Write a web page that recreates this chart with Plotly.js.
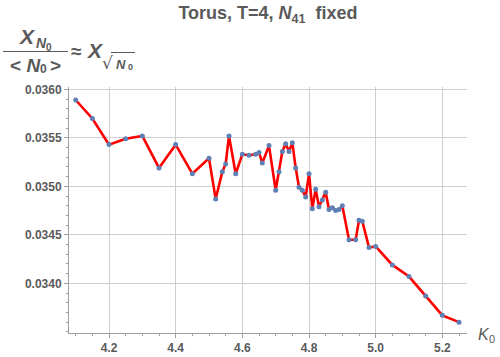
<!DOCTYPE html>
<html>
<head>
<meta charset="utf-8">
<script src="https://cdn.plot.ly/plotly-3.0.1.min.js"></script>
<style>html,body{margin:0;padding:0;background:#fff;}#chart{width:500px;height:357px;}</style>
</head>
<body>
<div id="chart"></div>
<script>
// Data
const kappa0 = [4.10, 4.15, 4.20, 4.25, 4.30, 4.35, 4.40, 4.45, 4.50, 4.52, 4.54, 4.55, 4.56, 4.58,
  4.60, 4.62, 4.64, 4.65, 4.66, 4.68, 4.70, 4.71, 4.72, 4.73, 4.74, 4.75, 4.76, 4.77, 4.78, 4.79,
  4.80, 4.81, 4.82, 4.83, 4.84, 4.85, 4.86, 4.87, 4.88, 4.89, 4.90, 4.92, 4.94, 4.95, 4.96, 4.98,
  5.00, 5.05, 5.10, 5.15, 5.20, 5.25];
const chi = [0.03589, 0.03570, 0.03543, 0.03549, 0.03552, 0.03519, 0.03543, 0.03513, 0.03529, 0.03487,
  0.03515, 0.03523, 0.03552, 0.03513, 0.03533, 0.03532, 0.03533, 0.03535, 0.03524, 0.03542, 0.03496,
  0.03515, 0.03536, 0.03544, 0.03536, 0.03545, 0.03519, 0.03499, 0.03496, 0.03489, 0.03513, 0.03477,
  0.03497, 0.03479, 0.03486, 0.03494, 0.03476, 0.03478, 0.03475, 0.03476, 0.03480, 0.03445, 0.03445,
  0.03465, 0.03464, 0.03437, 0.03438, 0.03419, 0.03407, 0.03387, 0.03367, 0.03360];
const xTicks = [4.2, 4.4, 4.6, 4.8, 5.0, 5.2];
const xTickText = ["4.2", "4.4", "4.6", "4.8", "5.0", "5.2"];
const yTicks = [0.0340, 0.0345, 0.0350, 0.0355, 0.0360];
const yTickText = ["0.0340", "0.0345", "0.0350", "0.0355", "0.0360"];

const W = 500, H = 357;
const M = {l: 69, r: 33, t: 87, b: 24};
const PW = W - M.l - M.r, PH = H - M.t - M.b;
function px(x) { return (x - M.l) / PW; }
function py(y) { return (H - M.b - y) / PH; }

const grey = "#5a5a5a";
const fam = "Liberation Sans, Arial, sans-serif";

function ann(text, x, y, size, opts) {
  return Object.assign({
    text: text, xref: "paper", yref: "paper", x: px(x), y: py(y),
    xanchor: "center", yanchor: "middle", showarrow: false,
    font: {family: fam, size: size, color: grey, weight: "bold"}
  }, opts || {});
}

const annotations = [
  // numerator X_{N_0}
  ann("<i>X</i>", 27, 36, 21),
  ann("<i>N</i>", 41, 43, 14),
  ann("0", 49, 47, 10),
  // denominator < N_0 >
  ann("< <i>N</i>", 25, 65, 19),
  ann("0", 43, 69, 12),
  ann(">", 55, 65, 19),
  // ≈ X_{√N0}
  ann("≈", 76, 52, 19),
  ann("<i>X</i>", 95, 50, 21),
  ann("√", 107, 63, 17, {font: {family: "DejaVu Sans, sans-serif", size: 17, color: grey}}),
  ann("<i>N</i>", 121, 64, 13),
  ann("0", 130, 67, 9),
  // x-axis label K_0
  ann("<i>K</i>", 484, 334, 16, {font: {family: fam, size: 16, color: grey}}),
  ann("0", 492, 339, 11, {font: {family: fam, size: 11, color: grey}})
];

const shapes = [
  {type: "line", xref: "paper", yref: "paper", x0: px(3), x1: px(68), y0: py(51.5), y1: py(51.5),
   line: {color: grey, width: 1.2}},
  {type: "line", xref: "paper", yref: "paper", x0: px(111), x1: px(135), y0: py(52.5), y1: py(52.5),
   line: {color: grey, width: 1}}
];

const trace = {
  x: kappa0, y: chi, type: "scatter", mode: "lines+markers",
  line: {color: "#ff0000", width: 2.6},
  marker: {color: "#5e81b5", size: 5},
  hoverinfo: "none", cliponaxis: false
};

const layout = {
  width: W, height: H, margin: M,
  paper_bgcolor: "#fff", plot_bgcolor: "#fff",
  showlegend: false,
  title: {
    text: "Torus, T=4, <i>N</i><sub>41</sub>  fixed",
    font: {family: fam, size: 18, color: grey, weight: "bold"},
    x: 268 / W, xref: "container", xanchor: "center",
    y: 1 - 13 / H, yref: "container", yanchor: "middle"
  },
  xaxis: {
    range: [4.08, 5.274], tickvals: xTicks, ticktext: xTickText,
    showgrid: true, gridcolor: "#cfcfcf", gridwidth: 1,
    zeroline: false, showline: true, linecolor: "#a0a0a0", linewidth: 1,
    ticks: "outside", ticklen: 4, tickcolor: "#a0a0a0",
    minor: {dtick: 0.05, tick0: 4.0, ticks: "outside", ticklen: 2, tickcolor: "#a0a0a0", showgrid: false},
    tickfont: {family: fam, size: 12, color: grey, weight: "bold"}
  },
  yaxis: {
    range: [0.033488, 0.036024], tickvals: yTicks, ticktext: yTickText,
    showgrid: true, gridcolor: "#cfcfcf", gridwidth: 1,
    zeroline: false, showline: true, linecolor: "#a0a0a0", linewidth: 1,
    ticks: "outside", ticklen: 4, tickcolor: "#a0a0a0",
    minor: {dtick: 0.0001, tick0: 0.0330, ticks: "outside", ticklen: 2, tickcolor: "#a0a0a0", showgrid: false},
    tickfont: {family: fam, size: 12, color: grey, weight: "bold"}
  },
  annotations: annotations,
  shapes: shapes
};

Plotly.newPlot("chart", [trace], layout, {staticPlot: true, displayModeBar: false});
</script>
</body>
</html>
